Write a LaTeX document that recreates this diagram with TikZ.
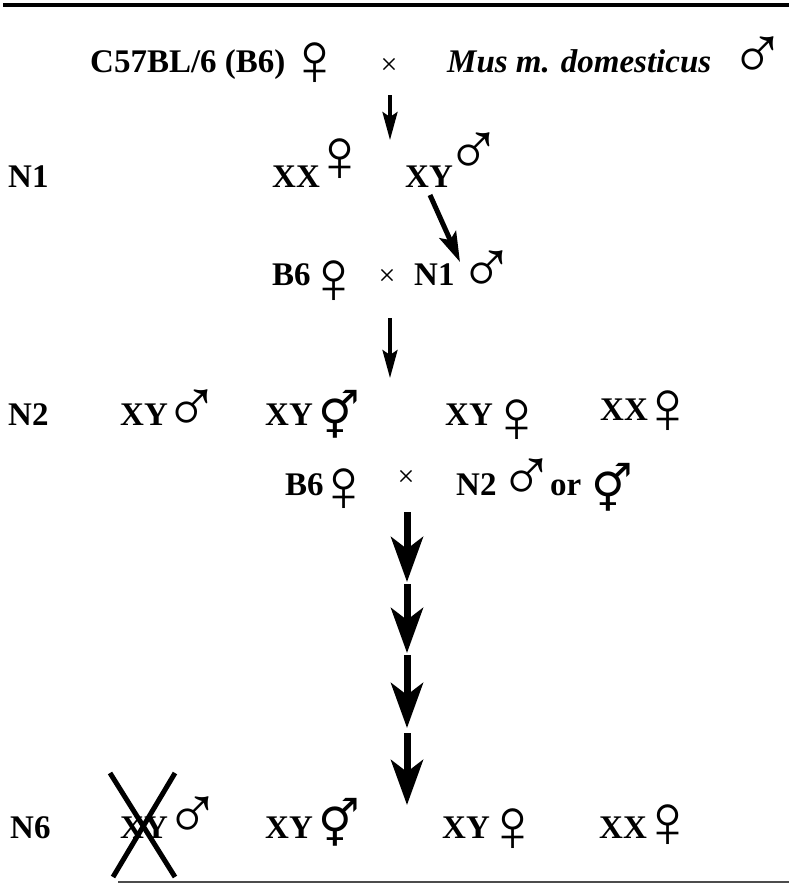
\documentclass[tikz,border=0pt]{standalone}
\usepackage{fontspec}
\setmainfont{Liberation Serif}
\newfontfamily\hermfont{DejaVu Sans}
\usetikzlibrary{arrows.meta}
\begin{document}
\begin{tikzpicture}[x=1pt,y=-1pt,
 lbl/.style={anchor=base west,inner sep=0pt,font=\fontsize{33}{36}\selectfont\bfseries},
 ilbl/.style={anchor=base west,inner sep=0pt,font=\fontsize{33}{36}\selectfont\bfseries\itshape},
 sym/.style={inner sep=0pt,font=\fontsize{76}{80}\selectfont},
 herm/.style={inner sep=0pt,font=\hermfont\fontsize{46}{50}\selectfont},
 crs/.style={inner sep=0pt,font=\fontsize{30}{34}\selectfont},
 thinarrow/.style={line width=3.5pt,-{Stealth[length=28pt,width=15pt,inset=5pt]}},
 diagarrow/.style={line width=5pt,-{Stealth[length=30pt,width=18pt,inset=6pt]}},
 bigarrow/.style={line width=7pt,-{Stealth[length=45pt,width=32pt,inset=12pt]}},
 rule/.style={line width=4pt},
 strike/.style={line width=5pt}
]
\useasboundingbox (0,0) rectangle (789,884);
\draw[rule] (3,5) -- (789,5);
\draw[line width=1.5pt,black!70] (118,882) -- (789,882);

% Row 1
\node[lbl] (c57) at (90,72) {C57BL/6 (B6)};
\node[sym] (f0) at (315,64) {♀};
\node[crs] (x0) at (389,66) {×};
\node[ilbl] (mus) at (447,72) {Mus m. domesticus};
\node[sym] (m0) at (758,58) {♂};

% N1
\node[lbl] (n1) at (8,187) {N1};
\node[lbl] (xx1) at (272,187) {XX};
\node[sym] (f1) at (340,160) {♀};
\node[lbl] (xy1) at (405,187) {XY};
\node[sym] (m1) at (474,154) {♂};

% B6 x N1
\node[lbl] (b6a) at (272,285) {B6};
\node[sym] (f2) at (334,282) {♀};
\node[crs] (x1) at (387,277) {×};
\node[lbl] (n1b) at (414,285) {N1};
\node[sym] (m2) at (487,272) {♂};

% N2
\node[lbl] (n2) at (8,425) {N2};
\node[lbl] (xy2a) at (120,425) {XY};
\node[sym] (m3) at (192,411) {♂};
\node[lbl] (xy2b) at (265,425) {XY};
\node[herm] (h1) at (339,414) {⚥};
\node[lbl] (xy2c) at (445,425) {XY};
\node[sym] (f3) at (517,421) {♀};
\node[lbl] (xx2) at (600,420) {XX};
\node[sym] (f4) at (668,412) {♀};

% B6 x N2
\node[lbl] (b6b) at (285,495) {B6};
\node[sym] (f5) at (344,490) {♀};
\node[crs] (x2) at (406,478) {×};
\node[lbl] (n2b) at (456,495) {N2};
\node[sym] (m4) at (527,480) {♂};
\node[lbl] (or) at (550,495) {or};
\node[herm] (h2) at (612,487) {⚥};

% N6
\node[lbl] (n6) at (10,838) {N6};
\node[lbl] (xy6a) at (120,838) {XY};
\node[sym] (m5) at (193,818) {♂};
\node[lbl] (xy6b) at (265,838) {XY};
\node[herm] (h3) at (339,822) {⚥};
\node[lbl] (xy6c) at (442,838) {XY};
\node[sym] (f6) at (513,830) {♀};
\node[lbl] (xx6) at (599,838) {XX};
\node[sym] (f7) at (668,826) {♀};

\draw[strike] (110,773) -- (175,877);
\draw[strike] (175,773) -- (113,877);

% arrows
\coordinate (a1s) at (390,95);
\coordinate (a1e) at (390,140);
\draw[thinarrow] (a1s) -- (a1e);
\coordinate (d1s) at (430,195);
\coordinate (d1e) at (460,262);
\draw[diagarrow] (d1s) -- (d1e);
\coordinate (a2s) at (390,318);
\coordinate (a2e) at (390,378);
\draw[thinarrow] (a2s) -- (a2e);
\coordinate (s0) at (407,512);
\coordinate (s1) at (407,582);
\coordinate (s1b) at (407,584);
\coordinate (s2) at (407,653);
\coordinate (s2b) at (407,655);
\coordinate (s3) at (407,728);
\coordinate (s3b) at (407,733);
\coordinate (s4) at (407,805);
\draw[bigarrow] (s0) -- (s1);
\draw[bigarrow] (s1b) -- (s2);
\draw[bigarrow] (s2b) -- (s3);
\draw[bigarrow] (s3b) -- (s4);
\end{tikzpicture}
\end{document}
